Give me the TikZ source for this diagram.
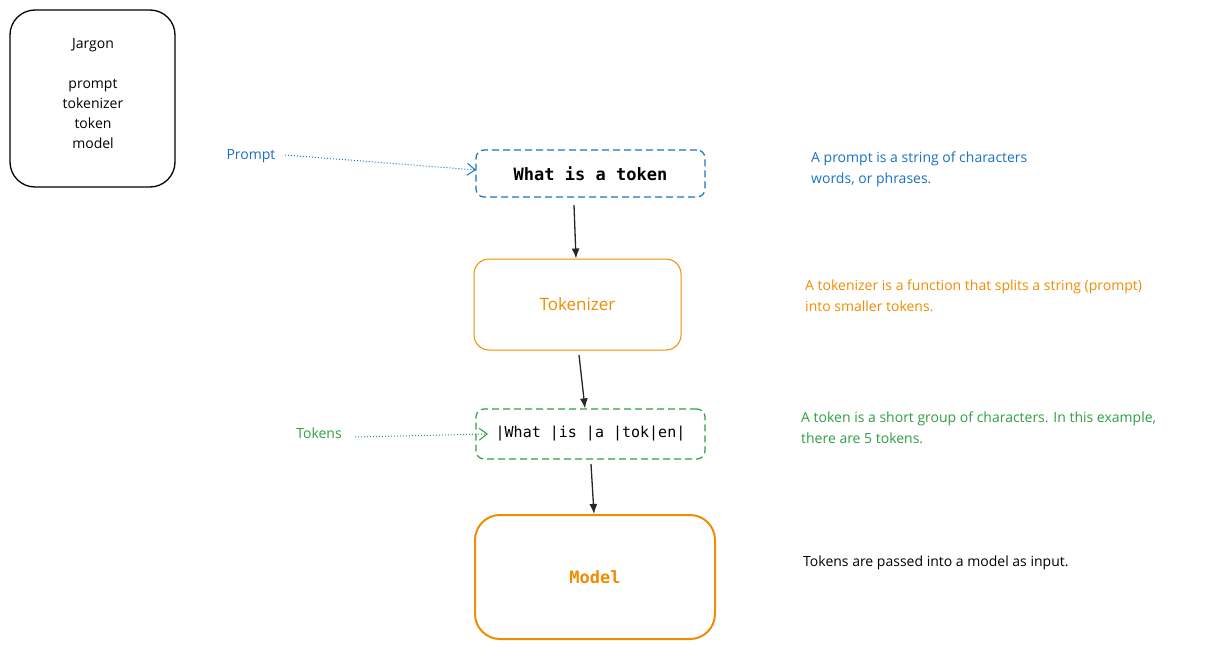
\documentclass[tikz,border=0pt]{standalone}
\usepackage{fontspec}
\setmainfont{Open Sans}
\setmonofont{DejaVu Sans Mono}
\usetikzlibrary{arrows.meta}
\definecolor{cb}{HTML}{1971C2}
\definecolor{co}{HTML}{F08C00}
\definecolor{cg}{HTML}{2F9E44}
\begin{document}
\begin{tikzpicture}[x=1pt,y=-1pt,
  txt/.style={font=\fontsize{14}{20}\selectfont,inner sep=0},
  rtxt/.style={txt,anchor=north west,align=left,font=\fontsize{14}{20.5}\selectfont},
  arr/.style={-{Latex[length=10pt,width=8pt]},line width=1.3pt,draw=black!85},
  dsh/.style={dash pattern=on 7pt off 4pt},
  dotarr/.style={dotted,line width=1pt,-{Straight Barb[length=8pt,width=12pt]}}]
\useasboundingbox (0,0) rectangle (1207,650);
\draw[line width=1.3pt,rounded corners=25] (10,10) rectangle (175,187);
\node[txt,align=center,anchor=north] (jar) at (93,38) {Jargon\\[20pt]prompt\\tokenizer\\token\\model};
\node[draw=cb,dsh,line width=1.2pt,rounded corners=8,minimum width=229,minimum height=47,font=\ttfamily\bfseries\fontsize{17}{20}\selectfont] (p) at (590.5,173.5) {What is a token};
\node[txt,text=cb] (pl) at (251,156) {Prompt};
\coordinate (pe) at (476,170);
\draw[dotarr,cb] (285,155) -- (pe);
\node[draw=co,line width=1pt,rounded corners=15,minimum width=207,minimum height=91,txt,font=\fontsize{17}{20}\selectfont,text=co] (t) at (577.5,304.5) {Tokenizer};
\node[draw=cg,dsh,line width=1.2pt,rounded corners=8,minimum width=229,minimum height=50,font=\ttfamily\fontsize{15}{20}\selectfont] (k) at (590.5,434) {|What |is |a |tok|en|};
\node[txt,text=cg] (kl) at (319,433) {Tokens};
\coordinate (ke) at (488,434);
\draw[dotarr,cg] (355,437) -- (ke);
\node[draw=co,line width=2pt,rounded corners=25,minimum width=240,minimum height=124,font=\ttfamily\bfseries\fontsize{17}{20}\selectfont,text=co] (m) at (595,577) {Model};
\draw[arr] (574,205) -- (t.north -| 576,0);
\draw[arr] (579,355) -- (k.north -| 585,0);
\draw[arr] (591,464) -- (m.north -| 594,0);
\node[rtxt,text=cb] at (811,152) {A prompt is a string of characters\\words, or phrases.};
\node[rtxt,text=co] at (805,280) {A tokenizer is a function that splits a string (prompt)\\into smaller tokens.};
\node[rtxt,text=cg] at (801,412) {A token is a short group of characters. In this example,\\there are 5 tokens.};
\node[rtxt] at (803,556) {Tokens are passed into a model as input.};
\end{tikzpicture}
\end{document}
